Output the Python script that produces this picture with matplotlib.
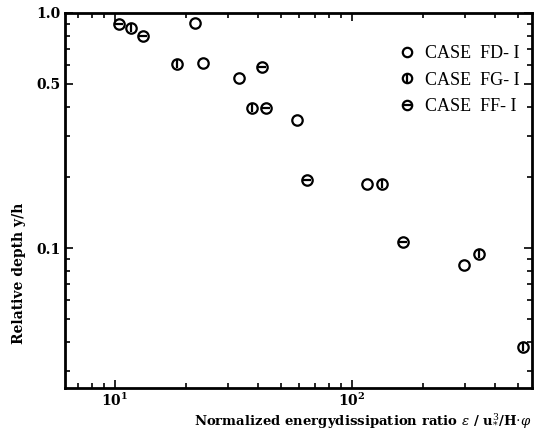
import matplotlib
matplotlib.use('Agg')
import matplotlib.pyplot as plt
from matplotlib.legend_handler import HandlerTuple
from matplotlib.ticker import LogLocator, FixedLocator, FixedFormatter, NullFormatter

plt.rcParams['font.family'] = ['Liberation Serif', 'DejaVu Serif']
plt.rcParams['mathtext.fontset'] = 'dejavuserif'

# energy dissipation ratio (x) and relative depth (y) for each case
fd_x = [21.8, 23.4, 33.3, 58.5, 116.0, 297.0]
fd_y = [0.904, 0.614, 0.531, 0.350, 0.187, 0.0844]

fg_x = [11.65, 18.3, 37.9, 133.9, 344.0, 525.0]
fg_y = [0.861, 0.605, 0.395, 0.188, 0.0943, 0.0378]

ff_x = [10.42, 13.16, 41.7, 43.3, 64.4, 163.7]
ff_y = [0.898, 0.800, 0.591, 0.395, 0.195, 0.106]

case_names = ['CASE  FD- I', 'CASE  FG- I', 'CASE  FF- I']
y_ticks = [0.1, 0.5, 1.0]
y_ticklabels = ['0.1', '0.5', '1.0']

fig = plt.figure(figsize=(5.39, 4.47), dpi=100, facecolor='w')
ax = fig.add_axes([0.1206, 0.132, 0.8664, 0.839])

ms = 7.5
mew = 1.6
circ = dict(marker='o', ms=ms, mfc='none', mec='k', mew=mew, ls='none')
bar = dict(ms=ms * 0.8, mec='k', mew=mew, ls='none')

h_fd, = ax.plot(fd_x, fd_y, **circ)
h_fg, = ax.plot(fg_x, fg_y, **circ)
h_fgbar, = ax.plot(fg_x, fg_y, marker='|', **bar)
h_ff, = ax.plot(ff_x, ff_y, **circ)
h_ffbar, = ax.plot(ff_x, ff_y, marker='_', **bar)

ax.set_xscale('log')
ax.set_yscale('log')
ax.set_xlim(6.15, 575)
ax.set_ylim(0.0254, 1.0)

ax.yaxis.set_major_locator(FixedLocator(y_ticks))
ax.yaxis.set_major_formatter(FixedFormatter(y_ticklabels))
ax.yaxis.set_minor_locator(LogLocator(base=10, subs=range(2, 10)))
ax.yaxis.set_minor_formatter(NullFormatter())
ax.xaxis.set_major_locator(LogLocator(base=10))
ax.xaxis.set_minor_locator(LogLocator(base=10, subs=range(2, 10)))
ax.xaxis.set_minor_formatter(NullFormatter())

ax.tick_params(which='both', direction='in', top=True, right=True,
               width=1.2, labelsize=10, pad=3)
ax.tick_params(which='major', length=6)
ax.tick_params(which='minor', length=3.5)
for lab in ax.get_xticklabels() + ax.get_yticklabels():
    lab.set_fontweight('bold')
    lab.set_family('DejaVu Serif')
for sp in ax.spines.values():
    sp.set_linewidth(2)

ax.set_ylabel('Relative depth y/h', fontsize=10, fontweight='bold',
              family='DejaVu Serif')
ax.yaxis.set_label_coords(-0.083, 0.307)
ax.text(1.0, -0.062, r'Normalized energydissipation ratio $\varepsilon$ / '
        r'u$_{*}^{3}$/H$\cdot\varphi$', transform=ax.transAxes,
        ha='right', va='top', fontsize=9.5, fontweight='bold',
        family='DejaVu Serif')

leg = ax.legend([h_fd, (h_fg, h_fgbar), (h_ff, h_ffbar)], case_names,
                handler_map={tuple: HandlerTuple(ndivide=1, pad=0)},
                loc='upper right', bbox_to_anchor=(1.008, 0.957),
                frameon=False, fontsize=13, handlelength=0.8,
                handletextpad=0.6, labelspacing=0.52, markerscale=0.9)

fig.savefig('out.png', dpi=100)
